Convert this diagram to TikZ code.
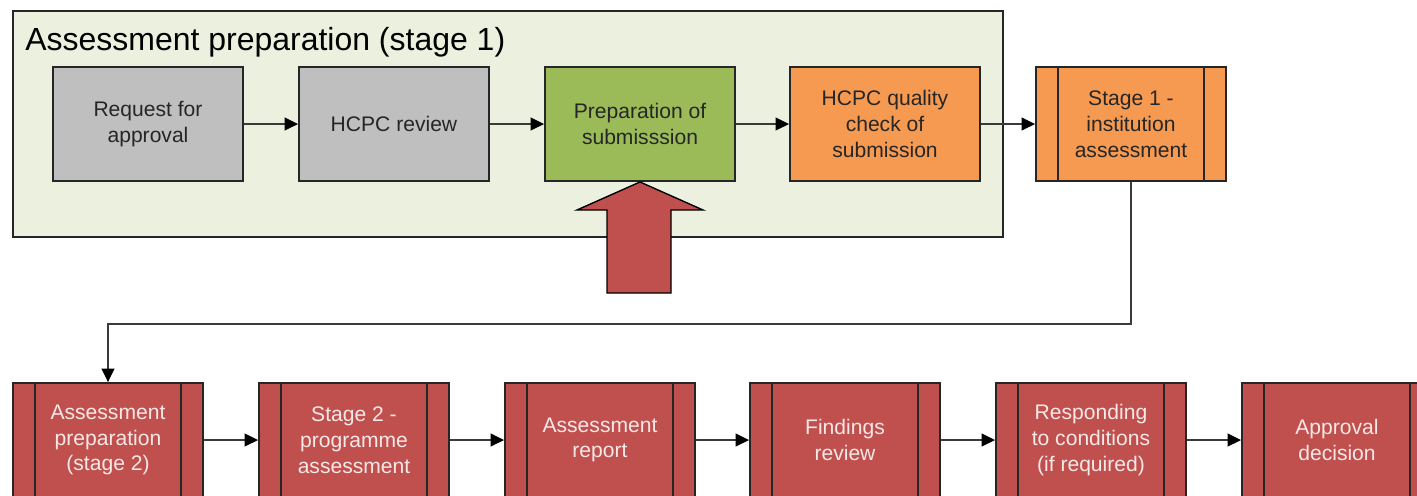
\documentclass[tikz,border=0pt]{standalone}
\usepackage{fontspec}
\setmainfont{Liberation Sans}
\usetikzlibrary{arrows.meta}
\definecolor{panelgreen}{HTML}{EBF1DE}
\definecolor{greybox}{HTML}{BFBFBF}
\definecolor{greenbox}{HTML}{9BBB59}
\definecolor{orangebox}{HTML}{F69A52}
\definecolor{redbox}{HTML}{C0504D}
\definecolor{darktext}{HTML}{262626}
\definecolor{lighttext}{HTML}{F7E8E8}
\definecolor{linegrey}{HTML}{3A3A3A}
\def\subproc(#1){\draw[boxline] ([xshift=0.46cm]#1.north west) -- ([xshift=0.46cm]#1.south west);
	\draw[boxline] ([xshift=-0.46cm]#1.north east) -- ([xshift=-0.46cm]#1.south east);}
\tikzset{
	boxline/.style={draw=black!85, line width=1.1pt},
	stepbox/.style={boxline, minimum width=3.8cm, minimum height=2.28cm, inner sep=0pt,
		align=center, text=darktext, font=\fontsize{12}{14.7}\selectfont},
	redstep/.style={stepbox, fill=redbox, text=lighttext},
	link/.style={draw=linegrey, line width=0.8pt, -{Triangle[length=2.7mm,width=2.6mm,color=black]}}
}

\begin{document}
\begin{tikzpicture}[x=0.02cm,y=-0.02cm]
	%%%%% START %%%%%
	\useasboundingbox (0,0) rectangle (1417,495);
	\clip (0,0) rectangle (1417,495);
	
	\draw[boxline, fill=panelgreen] (13,11) rectangle (1003,237);
	\node[anchor=base west, inner sep=0pt, text=black, font=\fontsize{18.2}{22}\selectfont] (paneltitle) at (25,50) {Assessment preparation (stage 1)};
	
	\node[stepbox, fill=greybox] (request) at (148,124) {Request for\\approval};
	\node[stepbox, fill=greybox] (review) at (394,124) {HCPC review};
	\node[stepbox, fill=greenbox] (prep) at (640,124) {Preparation of\\submisssion};
	\node[stepbox, fill=orangebox] (quality) at (885,124) {HCPC quality\\check of\\submission};
	\node[stepbox, fill=orangebox] (stage1) at (1131,124) {Stage 1 -\\institution\\assessment};
	\subproc(stage1)
	
	\draw[link] (request) -- (review);
	\draw[link] (review) -- (prep);
	\draw[link] (prep) -- (quality);
	\draw[link] (quality) -- (stage1);
	
	% big arrow pointing at the submission
	\draw[line width=0.8pt, fill=redbox] (prep.south) -- (703,210) -- (671,210) -- (671,293)
		-- (607,293) -- (607,210) -- (577,210) -- cycle;
	
	\node[redstep] (asm2) at (108,440) {Assessment\\preparation\\(stage 2)};
	\node[redstep] (stage2) at (354,440) {Stage 2 -\\programme\\assessment};
	\node[redstep] (report) at (600,440) {Assessment\\report};
	\node[redstep] (findings) at (845,440) {Findings\\review};
	\node[redstep] (conditions) at (1091,440) {Responding\\to conditions\\(if required)};
	\node[redstep] (decision) at (1337,440) {Approval\\decision};
	\subproc(asm2)
	\subproc(stage2)
	\subproc(report)
	\subproc(findings)
	\subproc(conditions)
	\subproc(decision)
	
	\draw[link] (stage1.south) -- (stage1.south |- 0,324) -| (asm2.north);
	\draw[link] (asm2) -- (stage2);
	\draw[link] (stage2) -- (report);
	\draw[link] (report) -- (findings);
	\draw[link] (findings) -- (conditions);
	\draw[link] (conditions) -- (decision);
	%%%%% END %%%%%
\end{tikzpicture}
\end{document}
